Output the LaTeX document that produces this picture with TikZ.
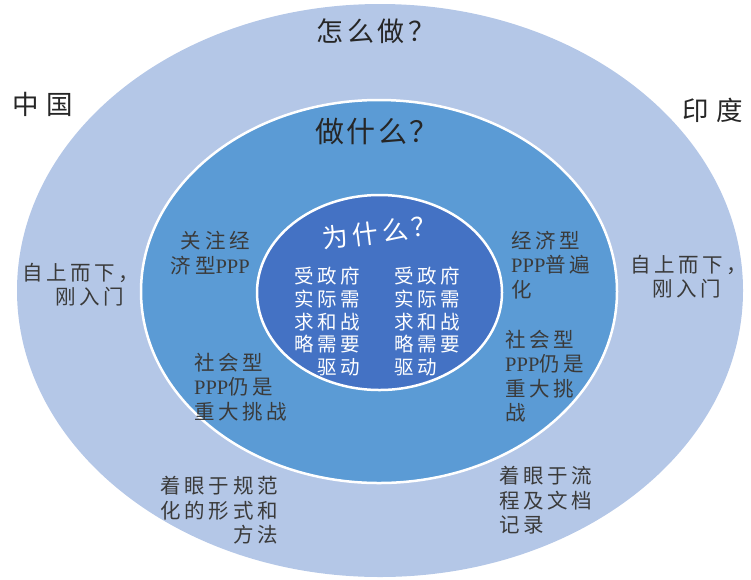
\documentclass[tikz,border=0pt]{standalone}
\usepackage{fontspec}
\setmainfont{Liberation Serif}
\newfontfamily\cjk{Noto Sans CJK SC}
\newcommand\pppx{{\rmfamily PPP}}
\definecolor{outerc}{HTML}{B4C7E7}
\definecolor{midc}{HTML}{5B9BD5}
\definecolor{innc}{HTML}{4472C4}
\definecolor{txtc}{HTML}{3A3A3A}
\tikzset{
  body/.style={font=\cjk\fontsize{20.5}{24.5}\selectfont\addfontfeature{LetterSpace=18}, text=txtc, inner sep=0pt},
  innertxt/.style={font=\cjk\fontsize{19.5}{22.7}\selectfont\addfontfeature{LetterSpace=18}, text=white, inner sep=0pt},
  title/.style={font=\cjk\fontsize{27}{30}\selectfont\addfontfeature{LetterSpace=14}, text=black!85, inner sep=0pt},
  country/.style={font=\cjk\fontsize{26.5}{30}\selectfont\addfontfeature{LetterSpace=30}, text=black!85, inner sep=0pt},
}
\begin{document}
\begin{tikzpicture}[x=1pt,y=-1pt]
\useasboundingbox (0,0) rectangle (751,579);
% rings
\fill[outerc] (380,290.5) ellipse [x radius=363, y radius=286.5];
\filldraw[fill=midc, draw=white, line width=2.5pt] (379,291.5) ellipse [x radius=238, y radius=191.5];
\filldraw[fill=innc, draw=white, line width=2.5pt] (379.5,292.5) ellipse [x radius=122.5, y radius=97.5];
% titles
\node[title] (how) at (376,31) {怎么做？};
\node[title, font=\cjk\fontsize{29}{32}\selectfont\addfontfeature{LetterSpace=8}] (what) at (377,131) {做什么？};
\node[title, text=white, rotate=7, font=\cjk\fontsize{26}{30}\selectfont\addfontfeature{LetterSpace=15}] (why) at (380,232) {为什么？};
\node[country, anchor=west] (cn) at (12,104) {中国};
\node[country, anchor=west] (in) at (682,110) {印度};
% outer ring texts
\node[body, anchor=north west, align=left] (cnA) at (22,263) {自上而下，\\\hspace*{33pt}刚入门};
\node[body, anchor=north west, align=left] (inA) at (630,255) {自上而下，\\\hspace*{22pt}刚入门};
\node[body, anchor=north east, align=right] (cnC) at (278,476) {着眼于规范\\化的形式和\\方法};
\node[body, anchor=north west, align=left] (inC) at (499,466) {着眼于流\\程及文档\\记录};
% middle ring texts
\node[body, anchor=north east, align=right] (cnB1) at (250,231) {关注经\\济型\pppx};
\node[body, anchor=north west, align=left] (cnB2) at (194,353) {社会型\\\pppx 仍是\\重大挑战};
\node[body, anchor=north west, align=left] (inB1) at (511,231) {经济型\\\pppx 普遍\\化};
\node[body, anchor=north west, align=left] (inB2) at (505,330) {社会型\\\pppx 仍是\\重大挑\\战};
% inner texts
\node[innertxt, anchor=north east, align=right] (cnI) at (360,267) {受政府\\实际需\\求和战\\略需要\\驱动};
\node[innertxt, anchor=north west, align=left] (inI) at (394,267) {受政府\\实际需\\求和战\\略需要\\驱动};
\end{tikzpicture}
\end{document}
